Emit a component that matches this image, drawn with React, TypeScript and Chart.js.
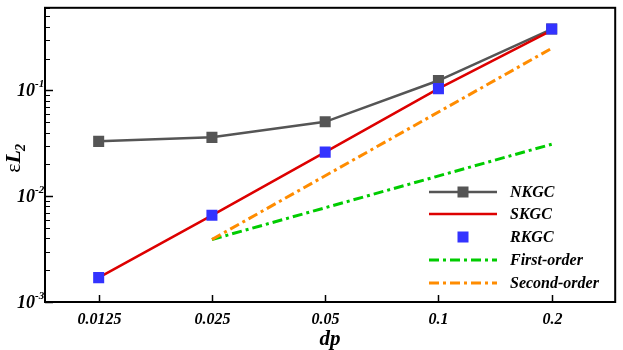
import React, { useEffect, useRef } from 'react';
import { Chart, registerables } from 'chart.js';

Chart.register(...registerables);

const dpValues = [0.0125, 0.025, 0.05, 0.1, 0.2];
const dpLabels = ['0.0125', '0.025', '0.05', '0.1', '0.2'];
const nkgcValues = [0.033, 0.036, 0.0505, 0.124, 0.38];
const skgcValues = [0.0017, 0.0066, 0.0261, 0.104, 0.37];
const rkgcValues = [0.0017, 0.0066, 0.0261, 0.104, 0.38];
const orderX = [0.025, 0.2];
const firstOrderValues = [0.0039, 0.031];
const secondOrderValues = [0.0039, 0.25];
const yDecades = [0.001, 0.01, 0.1];
const yDecadeExponents = ['-3', '-2', '-1'];
const seriesNames = ['NKGC', 'SKGC', 'RKGC', 'First-order', 'Second-order'];

const GRAY = '#555555';
const RED = '#dd0000';
const BLUE = '#3333ff';
const GREEN = '#00cc00';
const ORANGE = '#ff8c00';
const DASHDOT = [10, 4, 3, 4];
const FONT = '"Liberation Serif", "Times New Roman", serif';

const X_MIN = 0.009;
const X_MAX = 0.295;
const Y_MIN = 0.001;
const Y_MAX = 0.604;

const framePlugin = {
  id: 'frame',
  afterDraw(chart: any) {
    const { ctx, chartArea: a, scales } = chart;
    const x = scales.x;
    const y = scales.y;
    ctx.save();
    ctx.fillStyle = '#000';
    ctx.strokeStyle = '#000';

    // x ticks + labels
    ctx.lineWidth = 1.5;
    ctx.font = `italic bold 16px ${FONT}`;
    ctx.textAlign = 'center';
    ctx.textBaseline = 'middle';
    dpValues.forEach((v, i) => {
      const px = Math.round(x.getPixelForValue(v)) + 0.5;
      ctx.beginPath();
      ctx.moveTo(px, a.bottom);
      ctx.lineTo(px, a.bottom - 7);
      ctx.stroke();
      ctx.fillText(dpLabels[i], px, a.bottom + 18);
    });
    ctx.font = `italic bold 21px ${FONT}`;
    ctx.fillText('dp', (a.left + a.right) / 2, 340);

    // y ticks
    yDecades.forEach((d, i) => {
      const py = Math.round(y.getPixelForValue(d)) + 0.5;
      ctx.lineWidth = 1.5;
      ctx.beginPath();
      ctx.moveTo(a.left, py);
      ctx.lineTo(a.left + 8, py);
      ctx.stroke();
      for (let k = 2; k <= 9; k++) {
        const v = d * k;
        if (v > Y_MAX) break;
        const pm = Math.round(y.getPixelForValue(v)) + 0.5;
        ctx.lineWidth = 1;
        ctx.beginPath();
        ctx.moveTo(a.left, pm);
        ctx.lineTo(a.left + 5, pm);
        ctx.stroke();
      }
      ctx.font = `italic bold 18px ${FONT}`;
      ctx.textAlign = 'right';
      ctx.textBaseline = 'middle';
      ctx.fillText('10', 35, py + 1);
      ctx.font = `italic bold 11px ${FONT}`;
      ctx.textAlign = 'left';
      ctx.fillText(yDecadeExponents[i], 35, py - 6);
    });

    // y title: εL2
    ctx.save();
    ctx.translate(20, (a.top + a.bottom) / 2 + 3);
    ctx.rotate(-Math.PI / 2);
    ctx.textAlign = 'left';
    ctx.textBaseline = 'alphabetic';
    const f1 = `22px ${FONT}`;
    const f2 = `italic bold 22px ${FONT}`;
    const f3 = `italic bold 14px ${FONT}`;
    ctx.font = f1;
    const w1 = ctx.measureText('ε').width;
    ctx.font = f2;
    const w2 = ctx.measureText('L').width;
    ctx.font = f3;
    const w3 = ctx.measureText('2').width;
    let sx = -(w1 + w2 + w3) / 2;
    ctx.font = f1;
    ctx.fillText('ε', sx, 0);
    sx += w1;
    ctx.font = f2;
    ctx.fillText('L', sx, 0);
    sx += w2;
    ctx.font = f3;
    ctx.fillText('2', sx - 1, 5);
    ctx.restore();

    // border
    ctx.lineWidth = 2;
    ctx.strokeRect(a.left, a.top, a.right - a.left, a.bottom - a.top);

    // legend
    const lx0 = 429;
    const lx1 = 497;
    const lxm = (lx0 + lx1) / 2;
    const ly = [192, 214, 237, 260, 283];
    const styles = [
      { color: GRAY, line: true, dash: [], marker: GRAY },
      { color: RED, line: true, dash: [], marker: null },
      { color: BLUE, line: false, dash: [], marker: BLUE },
      { color: GREEN, line: true, dash: DASHDOT, marker: null },
      { color: ORANGE, line: true, dash: DASHDOT, marker: null },
    ];
    styles.forEach((s, i) => {
      const yy = ly[i];
      if (s.line) {
        ctx.save();
        ctx.strokeStyle = s.color;
        ctx.lineWidth = i >= 3 ? 3 : 2.5;
        ctx.setLineDash(s.dash);
        ctx.beginPath();
        ctx.moveTo(lx0, yy);
        ctx.lineTo(lx1, yy);
        ctx.stroke();
        ctx.restore();
      }
      if (s.marker) {
        ctx.fillStyle = s.marker;
        ctx.fillRect(lxm - 5.5, yy - 5.5, 11, 11);
      }
      ctx.fillStyle = '#000';
      ctx.font = `italic bold 16px ${FONT}`;
      ctx.textAlign = 'left';
      ctx.textBaseline = 'middle';
      ctx.fillText(seriesNames[i], 510, yy + 1);
    });

    ctx.restore();
  },
};

export default function App() {
  const canvasRef = useRef<HTMLCanvasElement | null>(null);

  useEffect(() => {
    const canvas = canvasRef.current;
    if (!canvas) return;
    const toPts = (xs: number[], ys: number[]) => xs.map((v, i) => ({ x: v, y: ys[i] }));
    const chart = new Chart(canvas, {
      type: 'line',
      data: {
        datasets: [
          {
            label: seriesNames[2],
            data: toPts(dpValues, rkgcValues),
            showLine: false,
            pointStyle: 'rect',
            pointRadius: 7.8,
            pointBackgroundColor: BLUE,
            pointBorderColor: BLUE,
            pointBorderWidth: 0,
            borderColor: BLUE,
            backgroundColor: BLUE,
          },
          {
            label: seriesNames[1],
            data: toPts(dpValues, skgcValues),
            borderColor: RED,
            borderWidth: 2.5,
            pointRadius: 0,
            fill: false,
          },
          {
            label: seriesNames[0],
            data: toPts(dpValues, nkgcValues),
            borderColor: GRAY,
            borderWidth: 2.5,
            pointStyle: 'rect',
            pointRadius: 7.8,
            pointBackgroundColor: GRAY,
            pointBorderColor: GRAY,
            pointBorderWidth: 0,
            fill: false,
          },
          {
            label: seriesNames[4],
            data: toPts(orderX, secondOrderValues),
            borderColor: ORANGE,
            borderWidth: 3,
            borderDash: DASHDOT,
            pointRadius: 0,
            fill: false,
          },
          {
            label: seriesNames[3],
            data: toPts(orderX, firstOrderValues),
            borderColor: GREEN,
            borderWidth: 3,
            borderDash: DASHDOT,
            pointRadius: 0,
            fill: false,
          },
        ],
      },
      options: {
        responsive: false,
        animation: false,
        devicePixelRatio: 1,
        layout: { padding: { left: 45, right: 4, top: 3, bottom: 48 } },
        plugins: {
          legend: { display: false },
          tooltip: { enabled: false },
          title: { display: false },
        },
        scales: {
          x: { type: 'logarithmic', min: X_MIN, max: X_MAX, display: false },
          y: { type: 'logarithmic', min: Y_MIN, max: Y_MAX, display: false },
        },
      },
      plugins: [framePlugin],
    } as any);
    return () => chart.destroy();
  }, []);

  return (
    <div style={{ position: 'absolute', left: 0, top: 0, width: 623, height: 350, background: '#fff' }}>
      <canvas ref={canvasRef} width={623} height={350} style={{ width: 623, height: 350, display: 'block' }} />
    </div>
  );
}
